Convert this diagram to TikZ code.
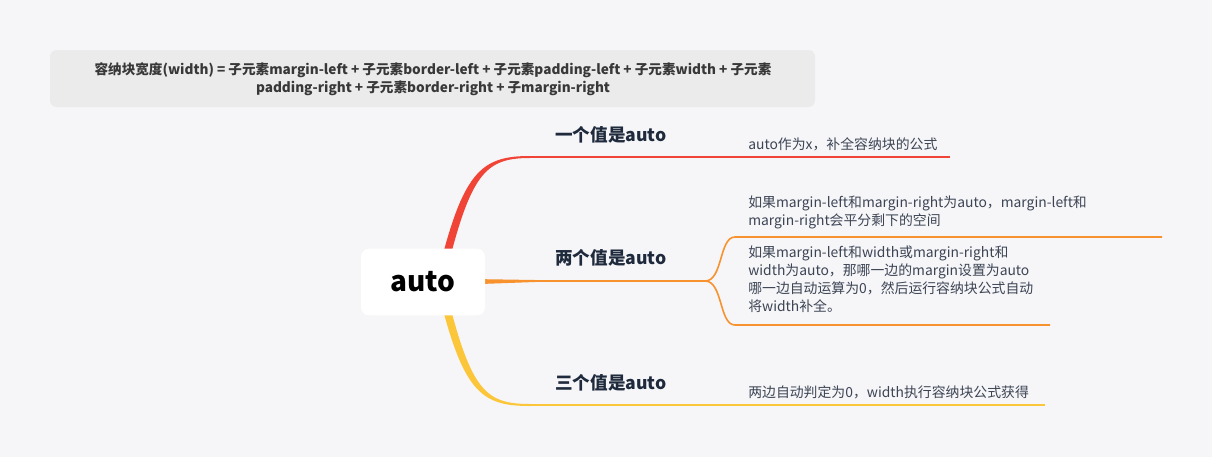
\documentclass[tikz,border=0pt]{standalone}
\usepackage{fontspec}
\setmainfont{Noto Sans CJK SC}
\usetikzlibrary{calc}
\definecolor{bgc}{HTML}{F6F6F8}
\definecolor{notec}{HTML}{EBEBEB}
\definecolor{redc}{HTML}{F04437}
\definecolor{orangec}{HTML}{F7922E}
\definecolor{yellowc}{HTML}{FCC63A}
\definecolor{labelc}{HTML}{1F2B3D}
\definecolor{txtc}{HTML}{3C4454}
\tikzset{
  branch/.style = {font = \fontsize{13.2}{15}\selectfont\bfseries, text = labelc, anchor = west, inner sep = 0pt},
  leaf/.style = {font = \fontsize{10.4}{13.5}\selectfont, text = txtc, align = left, inner sep = 0pt},
}
\begin{document}
\begin{tikzpicture}[x = 0.75pt, y = -0.75pt]
\useasboundingbox (0,0) rectangle (1212,457);
\fill [bgc] (0,0) rectangle (1212,457);
% note on top
\fill [notec, rounded corners = 5] (50,50) rectangle (815,107);
\node [font = \fontsize{10.2}{13.5}\selectfont\bfseries, text = black!78, align = center] (topnote) at (433,79)
  {容纳块宽度(width) = 子元素margin-left + 子元素border-left + 子元素padding-left + 子元素width + 子元素\\padding-right + 子元素border-right + 子margin-right};
% branch points
\coordinate (rc) at (440,282);
\coordinate (b1) at (530,157);
\coordinate (e1) at (950,157);
\coordinate (b2) at (535,281);
\coordinate (k2) at (705,281);
\coordinate (c2a) at (735,237);
\coordinate (e2a) at (1162,237);
\coordinate (c2b) at (735,325);
\coordinate (e2b) at (1050,325);
\coordinate (b3) at (530,405);
\coordinate (e3) at (1045,405);
% thick branches
\fill [redc] ($(rc)+(-4,0)$) .. controls ($(rc)+(22,-110)$) and ($(b1)+(-50,-1)$) .. ($(b1)+(0,-1)$)
  -- ($(b1)+(0,1)$) .. controls ($(b1)+(-46,1)$) and ($(rc)+(30,-108)$) .. ($(rc)+(4,0)$) -- cycle;
\fill [yellowc] ($(rc)+(-4,0)$) .. controls ($(rc)+(22,110)$) and ($(b3)+(-50,1)$) .. ($(b3)+(0,1)$)
  -- ($(b3)+(0,-1)$) .. controls ($(b3)+(-46,-1)$) and ($(rc)+(30,108)$) .. ($(rc)+(4,0)$) -- cycle;
\fill [orangec] ($(rc)+(0,-3.5)$) -- ($(b2)+(0,-1)$) -- ($(b2)+(0,1)$) -- ($(rc)+(0,3.5)$) -- cycle;
% thin lines
\draw [redc, line width = 1.5pt] ($(b1)+(-1,0)$) -- (e1);
\draw [yellowc, line width = 1.5pt] ($(b3)+(-1,0)$) -- (e3);
\draw [orangec, line width = 1.2pt] (b2) -- (k2) .. controls +(18,0) and +(-16,0) .. (c2a) -- (e2a);
\draw [orangec, line width = 1.2pt] (k2) .. controls +(18,0) and +(-16,0) .. (c2b) -- (e2b);
% root
\node [fill = white, rounded corners = 6, minimum width = 93pt, minimum height = 50pt,
  font = \fontsize{21}{23}\selectfont\bfseries] (root) at (423,282) {auto};
% labels
\node [branch] (one) at (555,135) {一个值是auto};
\node [branch] (two) at (555,258) {两个值是auto};
\node [branch] (three) at (555,383) {三个值是auto};
% leaves
\node [leaf, anchor = west] (onetxt) at (748,144) {auto作为x，补全容纳块的公式};
\node [leaf, anchor = north west] (twotxta) at (748,196)
  {如果margin-left和margin-right为auto，margin-left和\\margin-right会平分剩下的空间};
\node [leaf, anchor = north west] (twotxtb) at (748,246)
  {如果margin-left和width或margin-right和\\width为auto，那哪一边的margin设置为auto\\哪一边自动运算为0，然后运行容纳块公式自动\\将width补全。};
\node [leaf, anchor = west] (threetxt) at (748,392) {两边自动判定为0，width执行容纳块公式获得};
\end{tikzpicture}
\end{document}
